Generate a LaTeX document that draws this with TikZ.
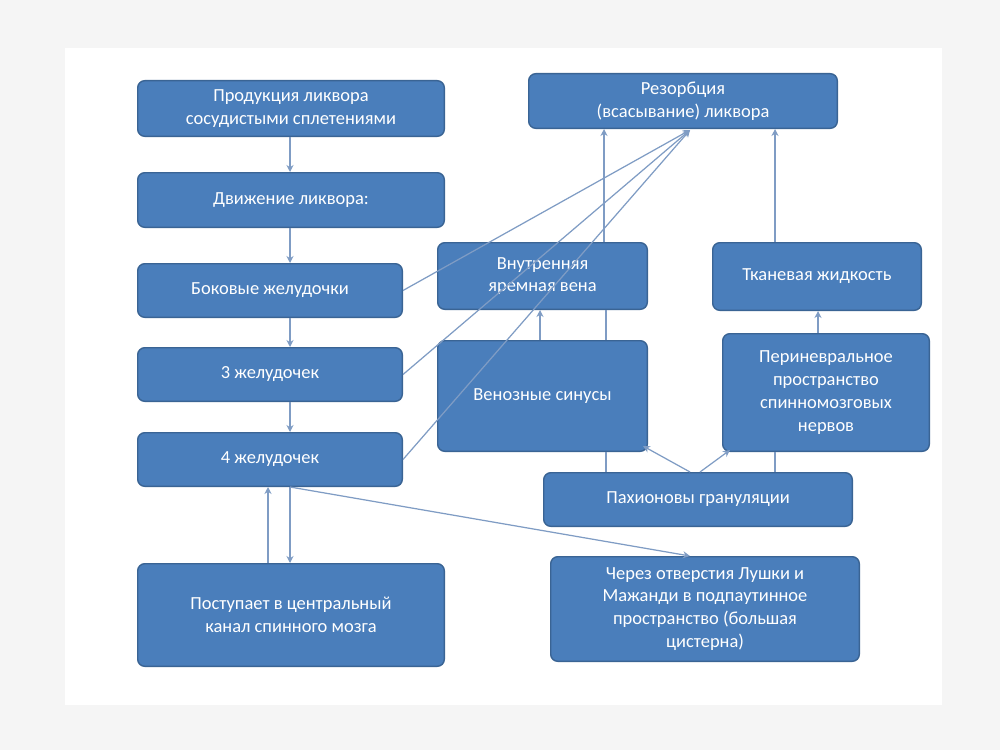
\documentclass[tikz,border=0pt]{standalone}
\usepackage{fontspec}
\setmainfont{Carlito}
\usetikzlibrary{arrows.meta}
\definecolor{boxfill}{HTML}{4A7EBB}
\definecolor{boxline}{HTML}{3A6494}
\definecolor{conn}{HTML}{7F9CC4}
\begin{document}
\begin{tikzpicture}[x=0.02cm,y=-0.02cm,
  bx/.style={draw=boxline,line width=0.8pt,fill=boxfill,rounded corners=4pt,text=white,align=center,font=\fontsize{10.5}{13}\selectfont,inner sep=0pt},
  cn/.style={draw=conn,line width=0.7pt,-{Stealth[length=4pt,width=4pt]}},
  ln/.style={draw=conn,line width=0.7pt}]
\fill[gray!8] (0,0) rectangle (1000,750);
\fill[white] (65,48) rectangle (942,705);
\useasboundingbox (0,0) rectangle (1000,750);
\def\bxn#1#2#3#4#5#6{\node[bx,minimum width=#4*0.02cm-0.8pt,minimum height=#5*0.02cm-0.8pt] (#1) at (#2,#3) {#6};}
\bxn{b1}{291}{108.5}{308}{57}{Продукция ликвора\\сосудистыми сплетениями}
\bxn{b2}{291}{200}{308}{56}{Движение ликвора:}
\bxn{b3}{270}{290.5}{266}{55}{Боковые желудочки}
\bxn{b4}{270}{374.5}{266}{55}{3 желудочек}
\bxn{b5}{270}{459.5}{266}{55}{4 желудочек}
\bxn{b6}{291}{615}{308}{104}{Поступает в центральный\\канал спинного мозга}
\bxn{b7}{683}{101}{310}{56}{Резорбция\\(всасывание) ликвора}
\bxn{b8}{542.5}{276}{211}{68}{Внутренняя\\яремная вена}
\bxn{b9}{542.5}{396}{211}{112}{Венозные синусы}
\bxn{b10}{817}{276.5}{210}{69}{Тканевая жидкость}
\bxn{b11}{826}{392.5}{208}{119}{Периневральное\\пространство\\спинномозговых\\нервов}
\bxn{b12}{698}{499.5}{310}{55}{Пахионовы грануляции}
\bxn{b13}{705}{609}{310}{106}{Через отверстия Лушки и\\Мажанди в подпаутинное\\пространство (большая\\цистерна)}
\coordinate (r) at (690,130);
\draw[cn] (b1.south -| 290,0) -- (b2.north -| 290,0);
\draw[cn] (b2.south -| 290,0) -- (b3.north -| 290,0);
\draw[cn] (b3.south -| 290,0) -- (b4.north -| 290,0);
\draw[cn] (b4.south -| 290,0) -- (b5.north -| 290,0);
\draw[cn] (b5.south -| 290,0) -- (b6.north -| 290,0);
\draw[cn] (b6.north -| 268,0) -- (b5.south -| 268,0);
\draw[cn] (b5.south -| 290,0) -- (b13.north -| 690,0);
\draw[cn] (b3.east) -- (r);
\draw[cn] (b4.east) -- (r);
\draw[cn] (b5.east) -- (r);
\draw[cn] (b8.north -| 604,0) -- (b7.south -| 604,0);
\draw[cn] (b9.north -| 540,0) -- (b8.south -| 540,0);
\draw[ln] (b9.north -| 606,0) -- (b8.south -| 606,0);
\draw[ln] (b12.north -| 606,0) -- (b9.south -| 606,0);
\draw[cn] (b12.north -| 690,0) -- (643,446);
\draw[cn] (b12.north -| 700,0) -- (730,450);
\draw[ln] (b12.north -| 775,0) -- (b11.south -| 775,0);
\draw[cn] (b11.north -| 818,0) -- (b10.south -| 818,0);
\draw[cn] (b10.north -| 775,0) -- (b7.south -| 775,0);
\end{tikzpicture}
\end{document}
